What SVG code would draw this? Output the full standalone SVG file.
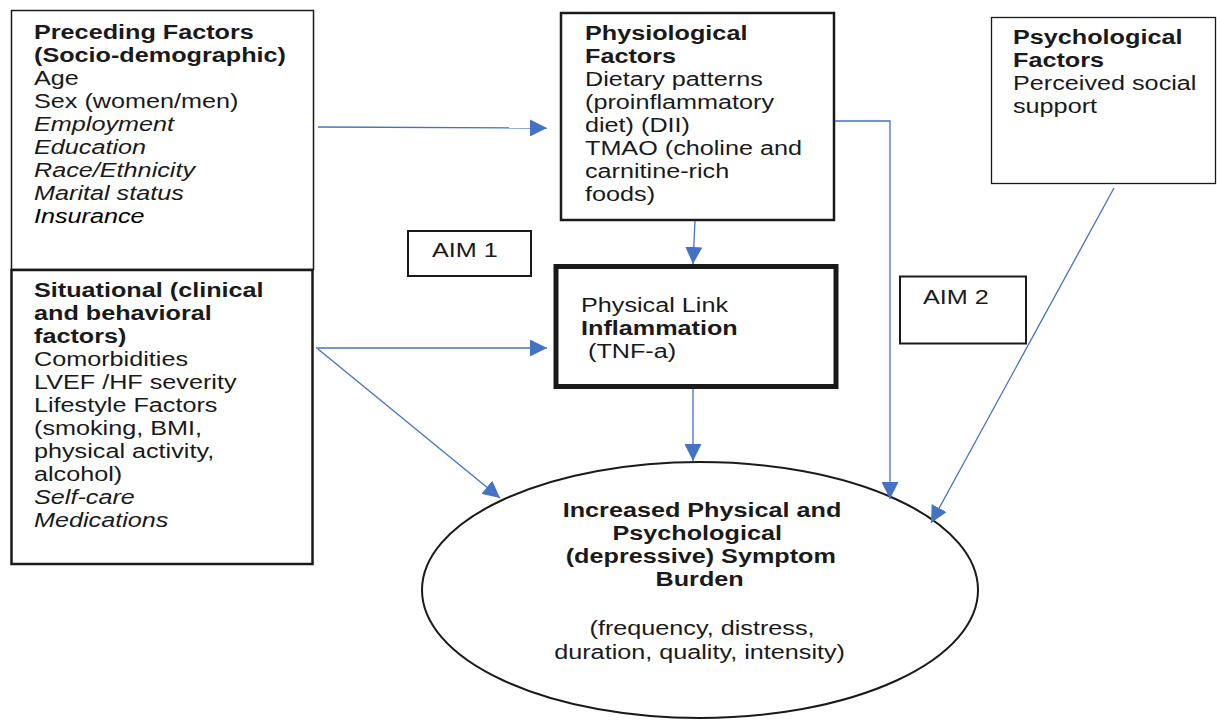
<svg xmlns="http://www.w3.org/2000/svg" width="1217" height="722" viewBox="0 0 1217 722">
<defs>
<marker id="ah" viewBox="0 0 10 10" refX="10" refY="5" markerWidth="17" markerHeight="17" markerUnits="userSpaceOnUse" orient="auto">
<path d="M0,0 L10,5 L0,10 z" fill="#4472C4"/>
</marker>
</defs>
<style>
text{font-family:"Liberation Sans",Arial,sans-serif;font-size:21px;fill:#1a1a1a}
.b{font-weight:bold}
.i{font-style:italic}
.box{fill:#fff;stroke:#1a1a1a}
.c{fill:none;stroke:#4472C4;stroke-width:1.3}
</style>
<rect width="1217" height="722" fill="#fff"/>
<g id="preceding">
<rect class="box" x="11.5" y="10.5" width="302" height="259" stroke-width="1.5"/>
<g transform="translate(34,0) scale(1.2,1)">
<text x="0" y="39" class="b">Preceding Factors</text>
<text x="0" y="62" class="b">(Socio-demographic)</text>
<text x="0" y="85">Age</text>
<text x="0" y="108">Sex (women/men)</text>
<text x="0" y="131" class="i">Employment</text>
<text x="0" y="154" class="i">Education</text>
<text x="0" y="177" class="i">Race/Ethnicity</text>
<text x="0" y="200" class="i">Marital status</text>
<text x="0" y="223" class="i" style="fill:#000">Insurance</text>
</g>
</g>
<g id="situational">
<rect class="box" x="11.5" y="270" width="301" height="294" stroke-width="2.5"/>
<g transform="translate(34,0) scale(1.2,1)">
<text x="0" y="297" class="b">Situational (clinical</text>
<text x="0" y="320" class="b">and behavioral</text>
<text x="0" y="343" class="b">factors)</text>
<text x="0" y="366">Comorbidities</text>
<text x="0" y="389">LVEF /HF severity</text>
<text x="0" y="412">Lifestyle Factors</text>
<text x="0" y="435">(smoking, BMI,</text>
<text x="0" y="458">physical activity,</text>
<text x="0" y="481">alcohol)</text>
<text x="0" y="504" class="i">Self-care</text>
<text x="0" y="527" class="i">Medications</text>
</g>
</g>
<g id="physiological">
<rect class="box" x="561" y="13" width="273" height="207" stroke-width="2.5"/>
<g transform="translate(585,0) scale(1.2,1)">
<text x="0" y="40" class="b">Physiological</text>
<text x="0" y="63" class="b">Factors</text>
<text x="0" y="86">Dietary patterns</text>
<text x="0" y="109">(proinflammatory</text>
<text x="0" y="132">diet) (DII)</text>
<text x="0" y="155">TMAO (choline and</text>
<text x="0" y="178">carnitine-rich</text>
<text x="0" y="201">foods)</text>
</g>
</g>
<g id="psychological">
<rect class="box" x="991.5" y="17.5" width="224" height="166" stroke="#444" stroke-width="1.3"/>
<g transform="translate(1013,0) scale(1.2,1)">
<text x="0" y="44" class="b">Psychological</text>
<text x="0" y="67" class="b">Factors</text>
<text x="0" y="90">Perceived social</text>
<text x="0" y="113">support</text>
</g>
</g>
<g id="aim1">
<rect class="box" x="408" y="231" width="123" height="45" stroke-width="2"/>
<g transform="translate(432,0) scale(1.2,1)">
<text x="0" y="257">AIM 1</text>
</g>
</g>
<g id="inflammation">
<rect class="box" x="556" y="266.5" width="280" height="120" stroke-width="5"/>
<g transform="translate(581,0) scale(1.2,1)">
<text x="0" y="312">Physical Link</text>
<text x="0" y="335" class="b">Inflammation</text>
<text x="0" y="358" xml:space="preserve"> (TNF-a)</text>
</g>
</g>
<g id="aim2">
<rect class="box" x="900" y="276.5" width="126" height="67" stroke-width="2"/>
<g transform="translate(923,0) scale(1.2,1)">
<text x="0" y="304">AIM 2</text>
</g>
</g>
<g id="outcome">
<ellipse cx="700" cy="590" rx="278" ry="128" fill="#fff" stroke="#1a1a1a" stroke-width="2"/>
<g transform="translate(702,0) scale(1.2,1)">
<text x="0" y="517" class="b" text-anchor="middle">Increased Physical and</text>
<text x="-4" y="540" class="b" text-anchor="middle">Psychological</text>
<text x="-1" y="563" class="b" text-anchor="middle">(depressive) Symptom</text>
<text x="-2" y="586" class="b" text-anchor="middle">Burden</text>
<text x="0" y="635" text-anchor="middle">(frequency, distress,</text>
<text x="-2" y="659" text-anchor="middle">duration, quality, intensity)</text>
</g>
</g>
<g id="connectors">
<path class="c" d="M318,127 L547,128" marker-end="url(#ah)"/>
<path class="c" d="M695,221 L693,264" marker-end="url(#ah)"/>
<path class="c" d="M316,348 L547,348" marker-end="url(#ah)"/>
<path class="c" d="M318,349 L500,498" marker-end="url(#ah)"/>
<path class="c" d="M693,389 L693,461" marker-end="url(#ah)"/>
<path class="c" d="M835,121 L890,121 L890,499" marker-end="url(#ah)"/>
<path class="c" d="M1114,188 L931,523" marker-end="url(#ah)"/>
</g>
</svg>
